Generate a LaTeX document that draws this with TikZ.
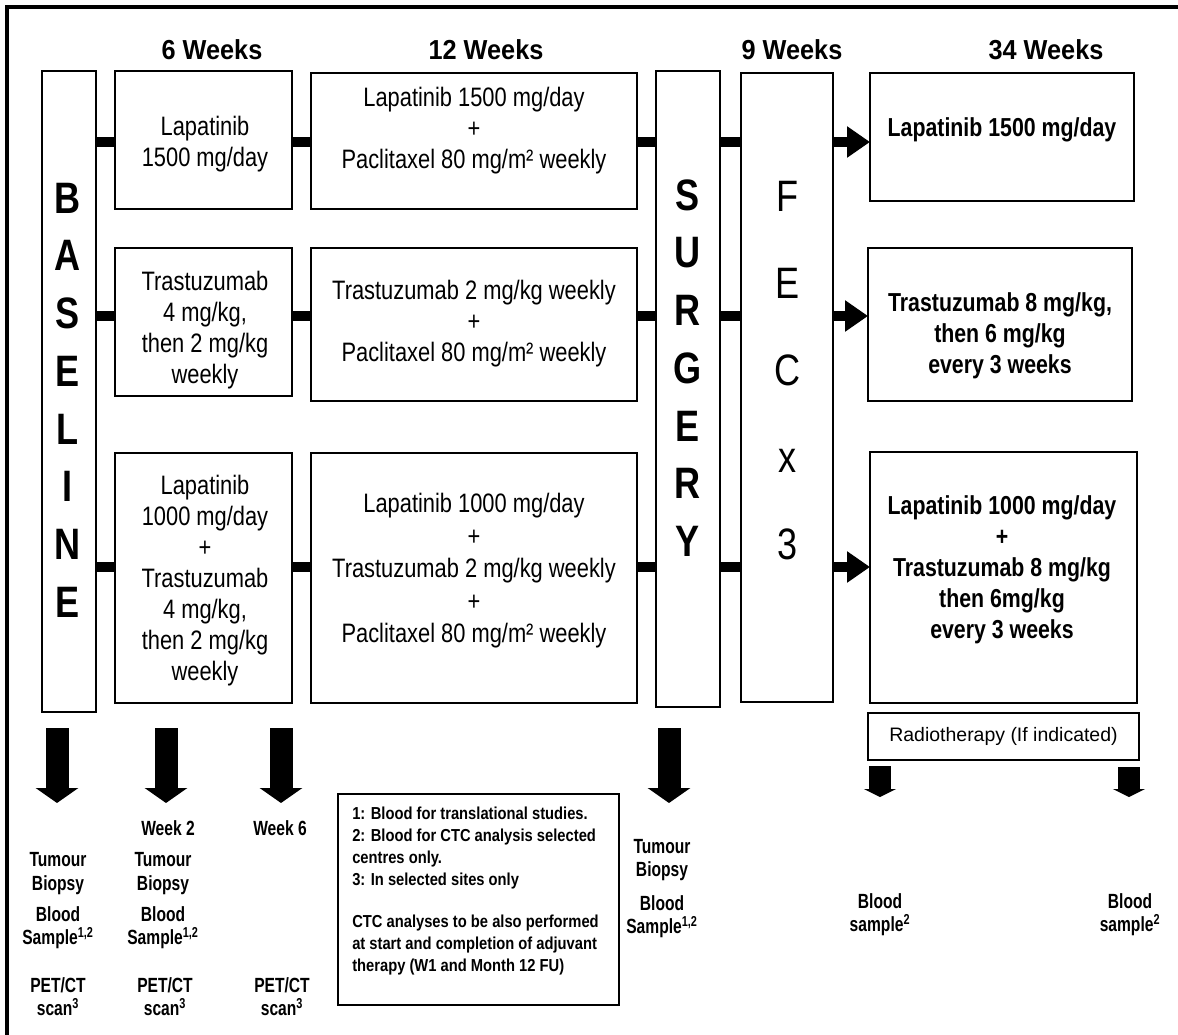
\documentclass[tikz,border=0pt]{standalone}
\usepackage{fontspec}
\setmainfont{Liberation Sans}
\newfontfamily\narrowf{Liberation Sans}[FakeStretch=0.82]
\newfontfamily\semif{Liberation Sans}[FakeStretch=0.92]
\newfontfamily\condf{Liberation Sans}[FakeStretch=0.76]
\newfontfamily\notef{Liberation Sans}[FakeStretch=0.85]
\usetikzlibrary{arrows.meta}
\newcommand\mkbox[5]{\node[box, minimum width={(#4-#2)*0.75pt}, minimum height={(#5-#3)*0.75pt}] (#1) at ({(#2+#4)/2},{(#3+#5)/2}) {};}
\begin{document}
\begin{tikzpicture}[x=0.75pt,y=-0.75pt,
  box/.style={draw, line width=1.4pt, inner sep=0pt, outer sep=0pt},
  body/.style={font=\narrowf\fontsize{20}{23.25}\selectfont, align=center, inner sep=0pt},
  bodyb/.style={font=\narrowf\bfseries\fontsize{19.5}{23.25}\selectfont, align=center, inner sep=0pt},
  hdr/.style={font=\semif\bfseries\fontsize{20.6}{24}\selectfont, inner sep=0pt},
  bigl/.style={font=\narrowf\bfseries\fontsize{33}{43.3}\selectfont, align=center, inner sep=0pt},
  bigr/.style={font=\narrowf\fontsize{33}{65.25}\selectfont, align=center, inner sep=0pt},
  bot/.style={font=\condf\bfseries\fontsize{15.4}{17.4}\selectfont, align=center, inner sep=0pt},
  bar/.style={line width=7.5pt},
  bararrow/.style={line width=7.5pt, -{Triangle[width=22.5pt,length=17.25pt]}},
  blockdown/.style={line width=17.25pt, -{Triangle[width=31.5pt,length=11.25pt]}},
  smalldown/.style={line width=16.5pt, -{Triangle[width=24pt,length=6pt]}},
]
\useasboundingbox (0,0) rectangle (1178,1035);
% frame
\draw[line width=2.4pt] (7,1035) -- (7,7) -- (1178,7);

% headers
\node[hdr] (h1) at (212,50) {6 Weeks};
\node[hdr] (h2) at (486,50) {12 Weeks};
\node[hdr] (h3) at (792,50) {9 Weeks};
\node[hdr] (h4) at (1046,50) {34 Weeks};

% boxes
\mkbox{BL}{42}{71}{96}{712}
\mkbox{B11}{115}{71}{292}{209}
\mkbox{B12}{311}{73}{637}{209}
\mkbox{B21}{115}{248}{292}{396}
\mkbox{B22}{311}{248}{637}{401}
\mkbox{B31}{115}{453}{292}{703}
\mkbox{B32}{311}{453}{637}{703}
\mkbox{SUR}{656}{71}{720}{707}
\mkbox{FEC}{741}{73}{833}{702}
\mkbox{B14}{870}{73}{1134}{201}
\mkbox{B24}{868}{248}{1132}{401}
\mkbox{B34}{870}{452}{1137}{703}
\node[box, minimum width={271*0.75pt}, minimum height={47*0.75pt}, font=\fontsize{14.6}{17}\selectfont] (RAD) at (1003.5,736.5) {Radiotherapy (If indicated)};
\mkbox{NOTE}{338}{794}{619}{1005}

% big vertical words
\node[bigl] (tBL) at (68,400) {B\\A\\S\\E\\L\\I\\N\\E};
\node[bigl] (tSUR) at (688,368) {S\\U\\R\\G\\E\\R\\Y};
\node[bigr] (tFEC) at (788,371) {F\\E\\C\\x\\3};

% box texts
\node[body] (t11) at (205,144) {Lapatinib\\1500 mg/day};
\node[body] (t12) at (474,131) {Lapatinib 1500 mg/day\\+\\Paclitaxel 80 mg/m² weekly};
\node[body] (t21) at (205,330) {Trastuzumab\\4 mg/kg,\\then 2 mg/kg\\weekly};
\node[body] (t22) at (474,324) {Trastuzumab 2 mg/kg weekly\\+\\Paclitaxel 80 mg/m² weekly};
\node[body] (t31) at (205,581) {Lapatinib\\1000 mg/day\\+\\Trastuzumab\\4 mg/kg,\\then 2 mg/kg\\weekly};
\node[body, font=\narrowf\fontsize{20}{24.4}\selectfont] (t32) at (474,571) {Lapatinib 1000 mg/day\\+\\Trastuzumab 2 mg/kg weekly\\+\\Paclitaxel 80 mg/m² weekly};
\node[bodyb] (t14) at (1002,130) {Lapatinib 1500 mg/day};
\node[bodyb] (t24) at (1000,336) {Trastuzumab 8 mg/kg,\\then 6 mg/kg\\every 3 weeks};
\node[bodyb] (t34) at (1002,570) {Lapatinib 1000 mg/day\\+\\Trastuzumab 8 mg/kg\\then 6mg/kg\\every 3 weeks};

% row connectors
\coordinate (r1) at (0,142);
\coordinate (r2) at (0,316);
\coordinate (r3) at (0,567);
\draw[bar] (BL.east |- r1) -- (B11.west |- r1);
\draw[bar] (B11.east |- r1) -- (B12.west |- r1);
\draw[bar] (B12.east |- r1) -- (SUR.west |- r1);
\draw[bar] (SUR.east |- r1) -- (FEC.west |- r1);
\draw[bararrow] (FEC.east |- r1) -- (B14.west |- r1);
\draw[bar] (BL.east |- r2) -- (B21.west |- r2);
\draw[bar] (B21.east |- r2) -- (B22.west |- r2);
\draw[bar] (B22.east |- r2) -- (SUR.west |- r2);
\draw[bar] (SUR.east |- r2) -- (FEC.west |- r2);
\draw[bararrow] (FEC.east |- r2) -- (B24.west |- r2);
\draw[bar] (BL.east |- r3) -- (B31.west |- r3);
\draw[bar] (B31.east |- r3) -- (B32.west |- r3);
\draw[bar] (B32.east |- r3) -- (SUR.west |- r3);
\draw[bar] (SUR.east |- r3) -- (FEC.west |- r3);
\draw[bararrow] (FEC.east |- r3) -- (B34.west |- r3);

% down arrows
\coordinate (d1s) at (57,728);  \coordinate (d1e) at (57,803);
\coordinate (d2s) at (166,728); \coordinate (d2e) at (166,803);
\coordinate (d3s) at (281,728); \coordinate (d3e) at (281,803);
\coordinate (d4s) at (669,728); \coordinate (d4e) at (669,803);
\coordinate (d5s) at (880,766); \coordinate (d5e) at (880,797);
\coordinate (d6s) at (1129,767); \coordinate (d6e) at (1129,797);
\draw[blockdown] (d1s) -- (d1e);
\draw[blockdown] (d2s) -- (d2e);
\draw[blockdown] (d3s) -- (d3e);
\draw[blockdown] (d4s) -- (d4e);
\draw[smalldown] (d5s) -- (d5e);
\draw[smalldown] (d6s) -- (d6e);

% bottom texts
\node[bot] (c1a) at (58,873.5) {Tumour\\Biopsy};
\node[bot] (c1b) at (58,927.5) {Blood\\Sample\textsuperscript{1,2}};
\node[bot] (c1c) at (58,996.5) {PET/CT\\scan\textsuperscript{3}};
\node[bot] (c2w) at (168,828) {Week 2};
\node[bot] (c2a) at (163,873.5) {Tumour\\Biopsy};
\node[bot] (c2b) at (163,927.5) {Blood\\Sample\textsuperscript{1,2}};
\node[bot] (c2c) at (165,996.5) {PET/CT\\scan\textsuperscript{3}};
\node[bot] (c3w) at (280,828) {Week 6};
\node[bot] (c3c) at (282,996.5) {PET/CT\\scan\textsuperscript{3}};
\node[bot] (c4a) at (662,860) {Tumour\\Biopsy};
\node[bot] (c4b) at (662,916.5) {Blood\\Sample\textsuperscript{1,2}};
\node[bot] (c5b) at (880,915) {Blood\\sample\textsuperscript{2}};
\node[bot] (c6b) at (1130,915) {Blood\\sample\textsuperscript{2}};

% footnote
\node[anchor=north west, align=left, inner sep=0pt, font=\notef\bfseries\fontsize{13}{16.4}\selectfont] (fn) at (352,807)
 {1: Blood for translational studies.\\2: Blood for CTC analysis selected\\centres only.\\3: In selected sites only\\[15pt]CTC analyses to be also performed\\at start and completion of adjuvant\\therapy (W1 and Month 12 FU)};
\end{tikzpicture}
\end{document}
